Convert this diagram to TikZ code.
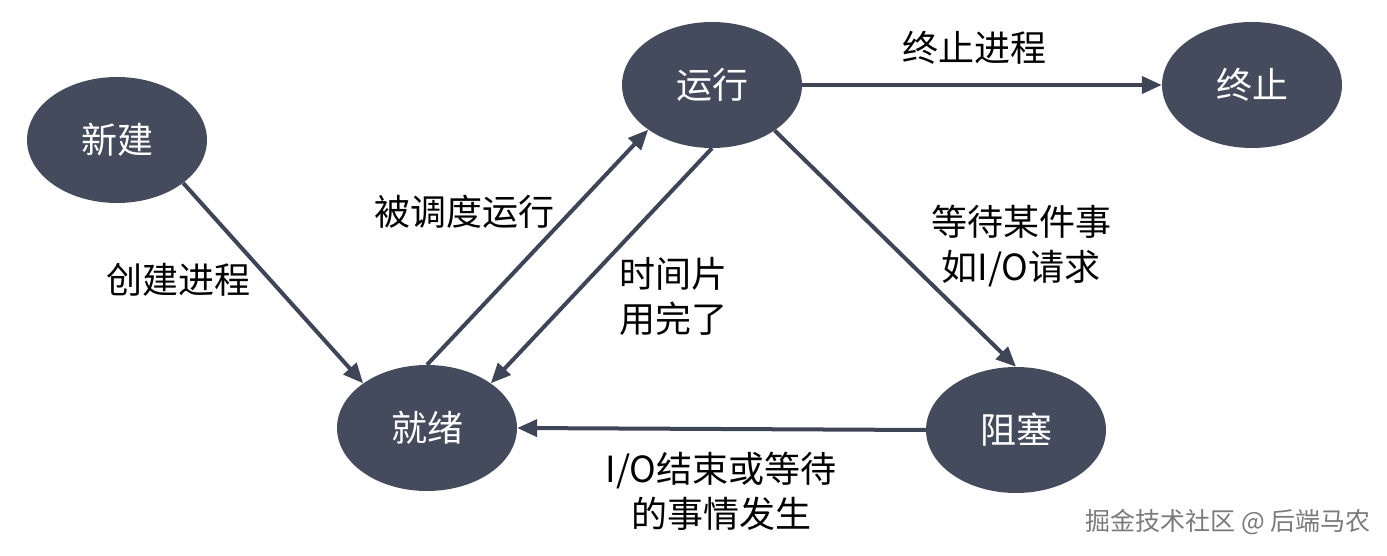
\documentclass[tikz,border=0pt]{standalone}
\usepackage{fontspec}
\setmainfont{Noto Sans CJK SC}
\usetikzlibrary{arrows.meta,shapes.geometric}
\definecolor{nodefill}{HTML}{434B5D}
\definecolor{linecol}{HTML}{3E4557}
\definecolor{wmgray}{HTML}{7A7A7A}
\tikzset{
  state/.style={ellipse, fill=nodefill, text=white, minimum width=180pt, minimum height=126pt, inner sep=0pt, font=\fontsize{36}{40}\selectfont},
  conn/.style={draw=linecol, line width=4pt, -{Triangle[length=20pt,width=17pt]}, shorten >=0pt},
  lbl/.style={text=black, align=center, inner sep=0pt, font=\fontsize{36}{45}\selectfont},
}
\begin{document}
\begin{tikzpicture}[x=1pt,y=-1pt]
\useasboundingbox (0,0) rectangle (1387,556);
\node[state] (new) at (117,140) {新建};
\node[state] (run) at (712,85) {运行};
\node[state] (term) at (1252,85) {终止};
\node[state] (ready) at (427,428) {就绪};
\node[state] (block) at (1016,430) {阻塞};

\draw[conn] (new.-33) -- (ready.145);
\draw[conn] (ready.90) -- (run.215);
\draw[conn] (run.270) -- (ready.35);
\draw[conn] (run.-36) -- (block.90);
\draw[conn] (block.180) -- (ready.0);
\draw[conn] (run.0) -- (term.180);

\node[lbl] (l1) at (974,48) {终止进程};
\node[lbl] (l2) at (178,280) {创建进程};
\node[lbl] (l3) at (464,212) {被调度运行};
\node[lbl] (l4) at (673,296) {时间片\\用完了};
\node[lbl] (l5) at (1021,246) {等待某件事\\如I/O请求};
\node[lbl] (l6) at (721,491) {I/O结束或等待\\的事情发生};
\node[text=wmgray, inner sep=0pt, anchor=east, font=\fontsize{25}{28}\selectfont] (wm) at (1371,522) {掘金技术社区 @ 后端马农};
\end{tikzpicture}
\end{document}
